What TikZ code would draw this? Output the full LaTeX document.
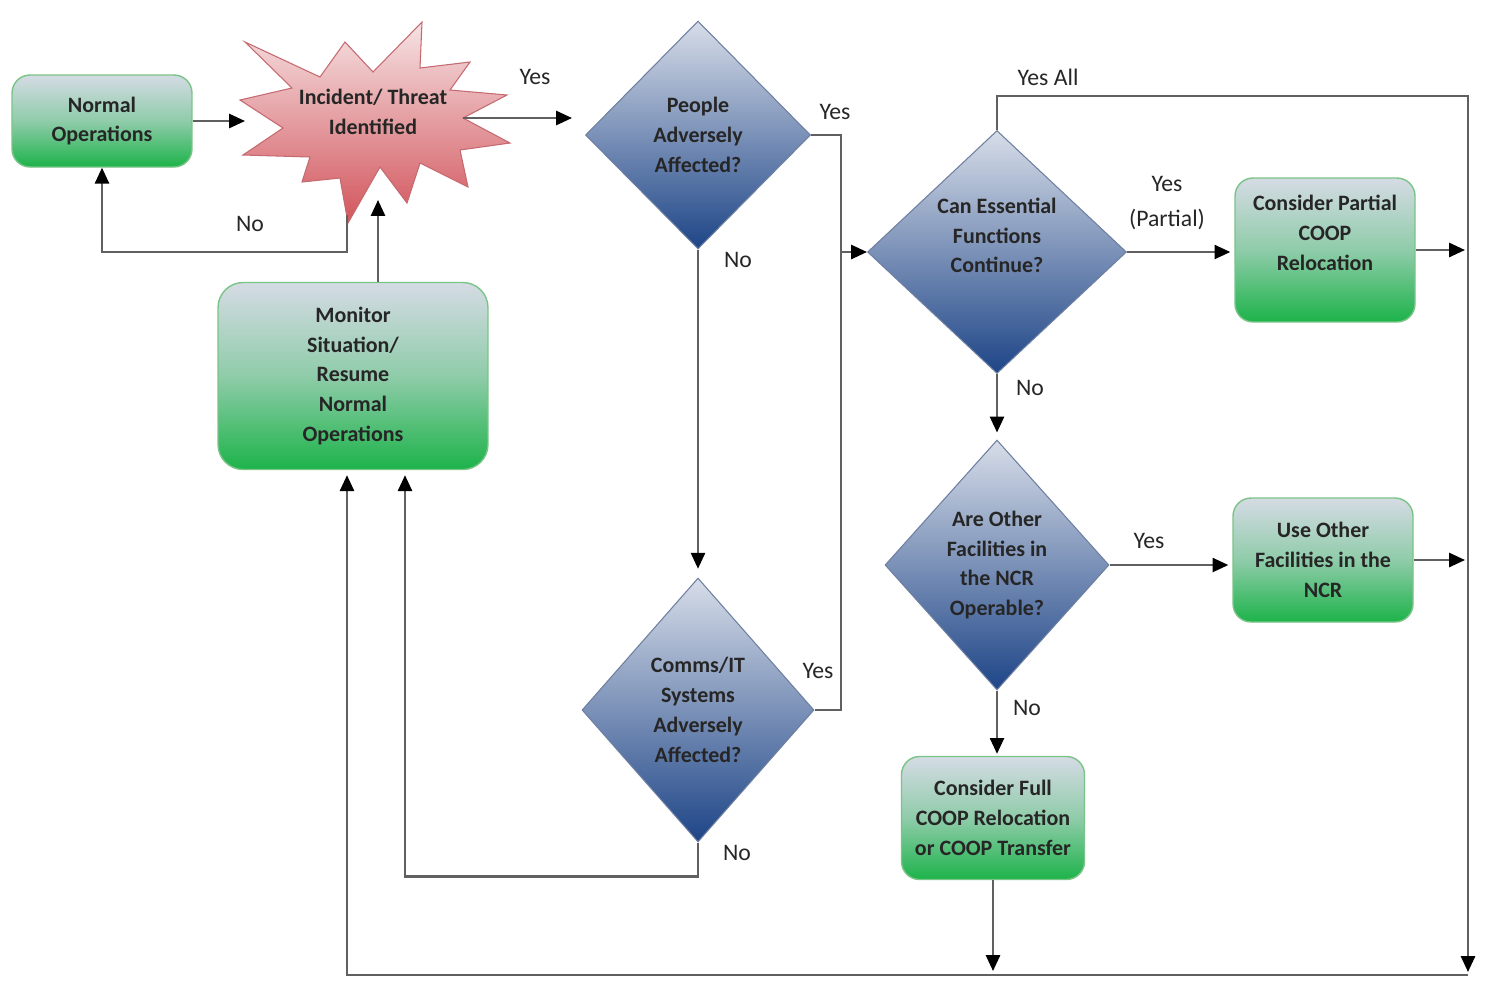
\documentclass[tikz,border=0pt]{standalone}
\usepackage{fontspec}
\setmainfont{Carlito}
\usetikzlibrary{shapes.geometric,arrows.meta,calc}

\definecolor{boxtop}{HTML}{D5DBE4}
\definecolor{boxbot}{HTML}{1DB34A}
\definecolor{boxline}{HTML}{7BC487}
\definecolor{dtop}{HTML}{D7DDE8}
\definecolor{dbot}{HTML}{1E4587}
\definecolor{dline}{HTML}{6E7FA0}
\definecolor{btop}{HTML}{F6E3E4}
\definecolor{bbot}{HTML}{D2555C}
\definecolor{bline}{HTML}{C46A70}
\definecolor{wirecol}{HTML}{606060}
\definecolor{ink}{HTML}{262626}

\tikzset{
  action/.style={
    rectangle,
    rounded corners=0.36cm,
    draw=boxline,
    line width=0.8pt,
    top color=boxtop,
    bottom color=boxbot,
    middle color=boxtop!62!boxbot,
    align=center,
    text=ink,
    font=\bfseries\fontsize{12.5}{17}\selectfont,
  },
  decision/.style={
    diamond,
    draw=dline,
    line width=0.6pt,
    top color=dtop,
    bottom color=dbot,
    inner sep=0pt,
    align=center,
    text=ink,
    font=\bfseries\fontsize{12.5}{17}\selectfont,
  },
  tag/.style={
    text=ink,
    align=center,
    font=\fontsize{13.5}{19.5}\selectfont,
  },
  wire/.style={
    draw=wirecol,
    line width=1.3pt,
  },
  flow/.style={
    wire,
    -{Triangle[length=9pt,width=8pt,color=black]},
  },
  burst/.pic={
    \shade[top color=btop, bottom color=bbot, draw=bline, line width=0.6pt]
      (-128,-76) -- (-53,-41) -- (-28,-76) -- (0,-46) -- (49,-96) -- (47,-50)
      -- (97,-56) -- (77,-28) -- (134,-23) -- (90,0) -- (137,25) -- (87,32)
      -- (95,69) -- (47,45) -- (34,85) -- (7,49) -- (-25,105) -- (-33,60)
      -- (-71,64) -- (-63,39) -- (-130,37) -- (-90,10) -- (-133,-18)
      -- (-81,-30) -- cycle;
    \node[text=ink, align=center, font=\bfseries\fontsize{12.5}{17}\selectfont]
      (-txt) at (0,-6) {Incident/ Threat\\Identified};
    \coordinate (-in) at (-128,3);
    \coordinate (-out) at (90,0);
    \coordinate (-down) at (-26,97);
    \coordinate (-up) at (5,82);
  },
}

\begin{document}
\begin{tikzpicture}[x=0.02cm, y=-0.02cm]

  \useasboundingbox (0,0) rectangle (1487,995);
  \fill[white] (0,0) rectangle (1487,995);

  \node[action, minimum width=3.6cm, minimum height=1.84cm] (normal) at (102,121) {Normal\\Operations};
  \pic (inc) at (373,118) {burst};
  \node[action, minimum width=5.4cm, minimum height=3.74cm, rounded corners=0.5cm] (monitor) at (353,376)
    {Monitor\\Situation/\\Resume\\Normal\\Operations};

  \node[decision, minimum width=4.5cm, minimum height=4.56cm] (d1) at (698,135) {People\\Adversely\\Affected?};
  \node[decision, minimum width=4.64cm, minimum height=5.28cm] (d4) at (698,710) {Comms/IT\\Systems\\Adversely\\Affected?};
  \node[decision, minimum width=5.18cm, minimum height=4.86cm, text depth=19pt] (d2) at (997,252)
    {Can Essential\\Functions\\Continue?};
  \node[decision, minimum width=4.48cm, minimum height=5cm] (d3) at (997,565) {Are Other\\Facilities in\\the NCR\\Operable?};

  \node[action, minimum width=3.6cm, minimum height=2.88cm, text depth=20pt] (partial) at (1325,250)
    {Consider Partial\\COOP\\Relocation};
  \node[action, minimum width=3.6cm, minimum height=2.48cm] (other) at (1323,560) {Use Other\\Facilities in the\\NCR};
  \node[action, minimum width=3.66cm, minimum height=2.46cm] (full) at (993,818)
    {Consider Full\\COOP Relocation\\or COOP Transfer};

  \coordinate (d1in) at (572,118);
  \coordinate (join) at (841,252);
  \coordinate (sink) at (1468,975);

  \draw[flow] (normal) -- (inc-in);
  \draw[flow] (inc-out) -- (d1in);
  \draw[flow] (inc-down) -- ++(0,37) -| (normal.south);
  \draw[flow] (monitor.north -| inc-up) -- (inc-up);
  \draw[flow] (d1.east) -| (join) -- (d2.west);
  \draw[wire] (d4.east) -| (join);
  \draw[flow, shorten >=5pt] (d1.south) -- (d4.north);
  \draw[flow] (d4.south) -- ++(0,34) -| ($(monitor.south)+(52,5)$);
  \draw[flow] (d2.north) -- ++(0,-34) -| ($(sink)+(0,-3)$);
  \draw[flow] (d2.east) -- ($(d2.east -| partial.west)+(-4,0)$);
  \draw[flow] (partial.east) -- ($(partial.east -| sink)+(-3,0)$);
  \draw[flow, shorten >=4pt] (d2.south) -- (d3.north);
  \draw[flow] (d3.east) -- ($(d3.east -| other.west)+(-4,0)$);
  \draw[flow] (other.east) -- ($(other.east -| sink)+(-3,0)$);
  \draw[flow] (d3.south) -- ($(d3.south |- full.north)+(0,-2)$);
  \draw[flow] (full.south) -- ($(full.south |- sink)+(0,-4)$);
  \draw[flow] (sink) -| ($(monitor.south)+(-6,5)$);

  \node[tag] (yes1) at (535,77) {Yes};
  \node[tag] (no1) at (250,224) {No};
  \node[tag] (yes2) at (835,112) {Yes};
  \node[tag] (no2) at (738,260) {No};
  \node[tag] (yes3) at (818,671) {Yes};
  \node[tag] (no3) at (737,853) {No};
  \node[tag] (yesall) at (1048,77) {Yes All};
  \node[tag] (yespart) at (1167,203) {Yes\\(Partial)};
  \node[tag] (no4) at (1030,388) {No};
  \node[tag] (yes4) at (1149,541) {Yes};
  \node[tag] (no5) at (1027,708) {No};

\end{tikzpicture}
\end{document}
